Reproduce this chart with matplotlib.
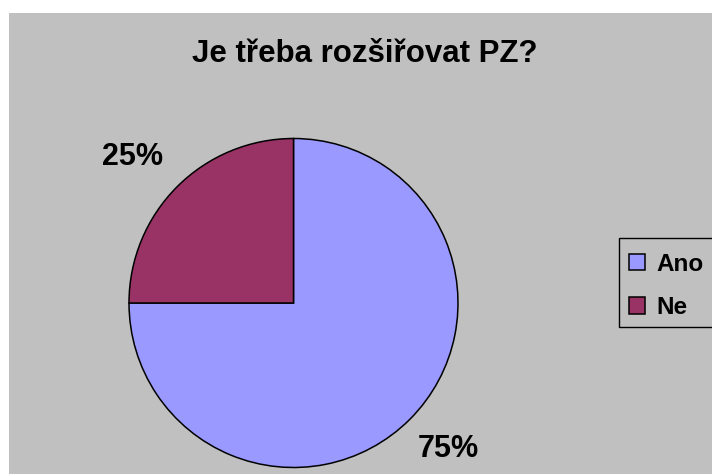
import matplotlib
matplotlib.use("Agg")
import matplotlib.pyplot as plt
from matplotlib.patches import Rectangle

plt.rcParams['font.family'] = ['Liberation Sans', 'DejaVu Sans']

categories = ["Ano", "Ne"]
values = [75, 25]
colors = ["#9999FF", "#993366"]
title = "Je třeba rozšiřovat PZ?"

W, H = 712, 474
fig = plt.figure(figsize=(W / 100, H / 100), dpi=100, facecolor="white")

# gray chart area
fig.patches.append(Rectangle((9 / W, 0), 1 - 9 / W, (H - 13) / H,
                             transform=fig.transFigure, facecolor="#C0C0C0",
                             edgecolor="none", zorder=-10))

cx, cy, r = 293.5, 303, 164.5
ax = fig.add_axes([(cx - r) / W, (H - cy - r) / H, 2 * r / W, 2 * r / H])
ax.set_zorder(1)
ax.set_facecolor("none")
wedges, texts, autotexts = ax.pie(
    values, colors=colors, startangle=90, counterclock=False,
    autopct="%1.0f%%", pctdistance=1.31, radius=1,
    wedgeprops=dict(edgecolor="black", linewidth=1.1),
    textprops=dict(fontsize=22, fontweight="bold", color="black"))
ax.set_xlim(-1, 1)
ax.set_ylim(-1, 1)
ax.set_aspect("equal")
# label placement offsets (layout only)
label_pos = [(0.939, -0.888), (-0.976, 0.888)]
for t, p in zip(autotexts, label_pos):
    t.set_position(p)
    t.set_clip_on(False)

fig.text(365 / W, 1 - 62 / H, title, ha="center", va="baseline",
         fontsize=22.5, fontweight="bold")

# legend frame
fig.patches.append(Rectangle((619 / W, (H - 327) / H), 100 / W, 89 / H,
                             transform=fig.transFigure, facecolor="#C0C0C0",
                             edgecolor="black", linewidth=1.0, zorder=1.5))

leg = fig.legend(wedges, categories, loc="upper left",
                 bbox_to_anchor=(619 / W, 1 - 242.4 / H),
                 frameon=False,
                 prop=dict(size=17.5, weight="bold"),
                 handlelength=0.66, handleheight=0.66, handletextpad=0.46,
                 labelspacing=0.84, borderpad=0.42, borderaxespad=0)
leg.set_zorder(2)

fig.savefig("out.png", dpi=100, facecolor="white")
